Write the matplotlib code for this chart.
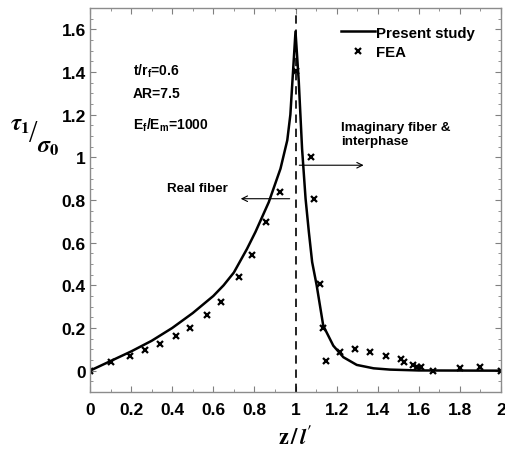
import matplotlib
matplotlib.use("Agg")
import matplotlib.pyplot as plt
from matplotlib.ticker import MultipleLocator

plt.rcParams['font.family'] = 'Liberation Sans'
plt.rcParams['font.weight'] = 'bold'
# pedici dei parametri nello stesso font del testo
plt.rcParams['mathtext.fontset'] = 'custom'
plt.rcParams['mathtext.rm'] = 'Liberation Sans:bold'
plt.rcParams['mathtext.it'] = 'Liberation Sans:bold'
plt.rcParams['mathtext.bf'] = 'Liberation Sans:bold'

# Modello analitico (presente studio): ramo fibra reale e ramo fibra immaginaria
z_model = [0.0, 0.1, 0.2, 0.3, 0.4, 0.5, 0.6, 0.65, 0.7, 0.764, 0.805, 0.87,
           0.927, 0.96, 0.975, 1.0, 1.016, 1.032, 1.049, 1.065, 1.081, 1.103,
           1.135, 1.184, 1.233, 1.298, 1.38, 1.46, 1.6, 2.0]
tau_model = [0.0, 0.045, 0.09, 0.14, 0.2, 0.27, 0.35, 0.40, 0.46, 0.571, 0.65, 0.79,
             0.947, 1.08, 1.2, 1.59, 1.354, 1.04, 0.806, 0.65, 0.509, 0.40,
             0.211, 0.117, 0.063, 0.027, 0.011, 0.005, 0.001, 0.0]

# Risultati FEA
z_fea = [0.0, 0.102, 0.195, 0.27, 0.343, 0.42, 0.488, 0.569, 0.636, 0.724, 0.788,
         0.855, 0.927, 1.003, 1.075, 1.09, 1.119, 1.135, 1.148, 1.216, 1.289,
         1.362, 1.44, 1.515, 1.53, 1.57, 1.59, 1.61, 1.667, 1.80, 1.90, 2.0]
tau_fea = [0.0, 0.042, 0.069, 0.097, 0.127, 0.163, 0.2, 0.26, 0.321, 0.438, 0.543,
           0.697, 0.837, 1.404, 1.0, 0.805, 0.404, 0.2, 0.047, 0.086, 0.102,
           0.086, 0.067, 0.055, 0.042, 0.028, 0.019, 0.019, 0.0, 0.011, 0.017, 0.0]

x_ticks = [0, 0.2, 0.4, 0.6, 0.8, 1, 1.2, 1.4, 1.6, 1.8, 2]
y_ticks = [0, 0.2, 0.4, 0.6, 0.8, 1, 1.2, 1.4, 1.6]

W, H = 505, 456
fig = plt.figure(figsize=(W / 100, H / 100), dpi=100)
ax = fig.add_axes([90 / W, 1 - 393 / H, 411 / W, 384 / H])

ax.plot(z_model, tau_model, color='black', lw=1.8, label='Present study')
ax.plot(z_fea, tau_fea, linestyle='none', marker='x', color='black',
        markersize=5, markeredgewidth=1.6, label='FEA')
ax.axvline(1.0, color='black', lw=1.2, linestyle=(0, (5, 3.5)))

ax.set_xlim(0, 2)
ax.set_ylim(-0.1, 1.7)
ax.xaxis.set_minor_locator(MultipleLocator(0.1))
ax.yaxis.set_minor_locator(MultipleLocator(0.05))
ax.set_xticks(x_ticks)
ax.set_xticklabels([f'{v:g}' for v in x_ticks])
ax.set_yticks(y_ticks)
ax.set_yticklabels([f'{v:g}' for v in y_ticks])
ax.tick_params(which='both', direction='in', top=True, right=True,
               color='#808080', labelsize=12.5)
ax.tick_params(axis='x', pad=7)
ax.tick_params(axis='y', pad=3)
ax.tick_params(which='major', length=4)
ax.tick_params(which='minor', length=2.2)
for sp in ax.spines.values():
    sp.set_color('#8c8c8c')
    sp.set_linewidth(1.0)

ax.set_xlabel(r"$\mathbf{z}\,\mathbf{/}\,\boldsymbol{l}'$", fontsize=16, labelpad=6,
              math_fontfamily='stix')

# etichetta y a pezzi: tau_1 in alto, barra, sigma_0 in basso
fig.text(20 / W, 1 - 125 / H, r'$\boldsymbol{\tau}_\mathbf{1}$', fontsize=17,
         ha='center', va='center', math_fontfamily='stix')
fig.text(33 / W, 1 - 135 / H, '/', fontsize=22, ha='center', va='center',
         family='Liberation Serif', weight='normal')
fig.text(48 / W, 1 - 146 / H, r'$\boldsymbol{\sigma}_\mathbf{0}$', fontsize=17,
         ha='center', va='center', math_fontfamily='stix')

# Parametri del caso
ax.text(0.21, 1.41, r'$\mathrm{t/r_f}$=0.6', fontsize=10, va='center')
ax.text(0.21, 1.30, 'AR=7.5', fontsize=10, va='center')
ax.text(0.21, 1.155, r'$\mathrm{E_f/E_m}$=1000', fontsize=10, va='center')

# Frecce delle due regioni
ax.annotate('', xy=(0.72, 0.806), xytext=(0.985, 0.806),
            arrowprops=dict(arrowstyle='->', color='black', lw=0.8))
ax.text(0.375, 0.855, 'Real fiber', fontsize=9.6, va='center')
ax.annotate('', xy=(1.345, 0.963), xytext=(1.005, 0.963),
            arrowprops=dict(arrowstyle='->', color='black', lw=0.8))
ax.text(1.22, 1.11, 'Imaginary fiber &\ninterphase', fontsize=9.6, va='center',
        linespacing=1.3)

leg = ax.legend(loc='upper left', bbox_to_anchor=(0.603, 0.962), frameon=False,
                fontsize=10.8, handlelength=2.3, handletextpad=0.05,
                borderaxespad=0, borderpad=0.2, labelspacing=0.35)

fig.savefig('out.png', dpi=100)
